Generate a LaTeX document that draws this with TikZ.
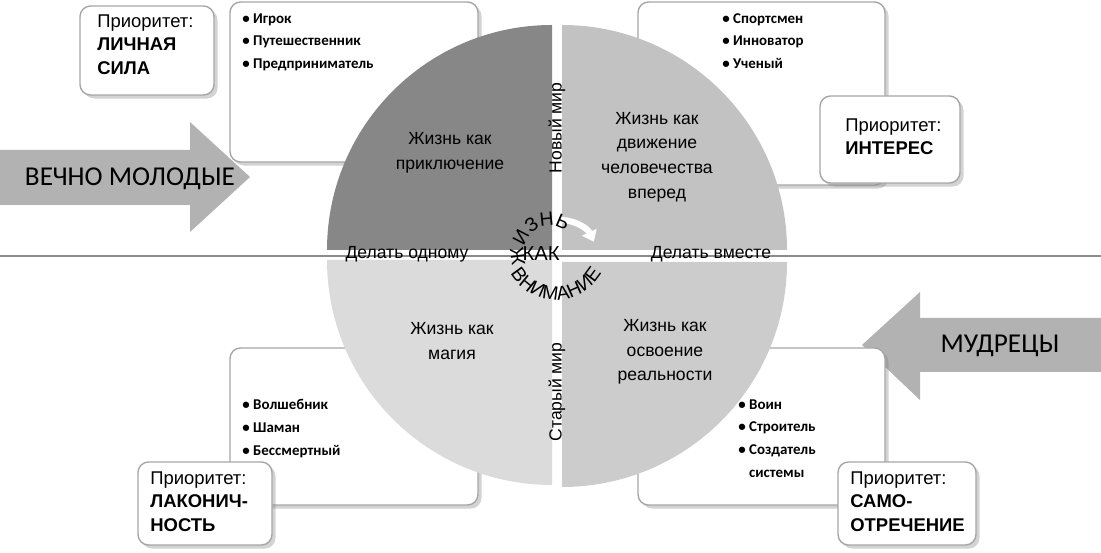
\documentclass[tikz,border=0pt]{standalone}
\usepackage{fontspec}
\setmainfont{Liberation Sans}
\newfontfamily\carlitofam{Carlito}
\usetikzlibrary{shadows,decorations.text,arrows.meta}
\begin{document}
\begin{tikzpicture}[x=0.02cm,y=0.02cm,
  card/.style={draw=black!35,line width=0.8pt,fill=white,rounded corners=6pt,drop shadow={shadow xshift=2pt,shadow yshift=-2pt,opacity=0.35}},
  lst/.style={font=\carlitofam\bfseries\fontsize{8.5}{13}\selectfont,align=left,anchor=north west,inner sep=0pt},
  prio/.style={font=\fontsize{10.5}{13.5}\selectfont,align=left,anchor=north west,inner sep=0pt},
  qt/.style={font=\fontsize{10}{14}\selectfont,align=center},
  arr/.style={fill=black!30,draw=none}]
\useasboundingbox (0,0) rectangle (1101,-553);
% horizontal line
\draw[black!45,line width=0.8pt] (0,-256) -- (1101,-256);
% arrows
\fill[arr] (0,-150) -- (190,-150) -- (190,-122) -- (250,-177) -- (190,-232) -- (190,-205) -- (0,-205) -- cycle;
\node[font=\carlitofam\fontsize{15.5}{15}\selectfont] (ym) at (130,-179) {ВЕЧНО МОЛОДЫЕ};
\fill[arr] (1101,-318) -- (920,-318) -- (920,-292) -- (862,-345) -- (920,-400) -- (920,-372) -- (1101,-372) -- cycle;
\node[font=\carlitofam\fontsize{15.5}{15}\selectfont] (md) at (1000,-346) {МУДРЕЦЫ};
% list cards
\draw[card] (230,-2) rectangle (478,-162);
\draw[card] (638,-2) rectangle (885,-185);
\draw[card] (230,-348) rectangle (478,-505);
\draw[card] (638,-348) rectangle (885,-505);
% circle quadrants
\fill[black!47] (552,-250) -- (327,-250) arc (180:90:225) -- cycle;
\fill[black!24] (562,-250) -- (562,-25) arc (90:0:225) -- cycle;
\fill[black!14] (552,-260) -- (552,-485) arc (270:180:225) -- cycle;
\fill[black!20] (562,-262) -- (787,-262) arc (0:-90:225) -- cycle;
% priority cards
\draw[card] (80,-6) rectangle (214,-95);
\draw[card] (820,-96) rectangle (960,-183);
\draw[card] (138,-462) rectangle (272,-545);
\draw[card] (838,-462) rectangle (976,-545);
\node[prio] (p1) at (97,-14) {Приоритет:\\\textbf{ЛИЧНАЯ}\\\textbf{СИЛА}};
\node[prio] (p2) at (845,-118) {Приоритет:\\\textbf{ИНТЕРЕС}};
\node[prio] (p3) at (150,-471) {Приоритет:\\\textbf{ЛАКОНИЧ-}\\\textbf{НОСТЬ}};
\node[prio] (p4) at (850,-471) {Приоритет:\\\textbf{САМО-}\\\textbf{ОТРЕЧЕНИЕ}};
% lists
\node[lst] (l1) at (242,-13) {• Игрок\\• Путешественник\\• Предприниматель};
\node[lst] (l2) at (722,-13) {• Спортсмен\\• Инноватор\\• Ученый};
\node[lst] (l3) at (242,-399) {• Волшебник\\• Шаман\\• Бессмертный};
\node[lst] (l4) at (738,-399) {• Воин\\• Строитель\\• Создатель\\\phantom{• }системы};
% quadrant texts
\node[qt] (q1) at (450,-153) {Жизнь как\\приключение};
\node[qt] (q2) at (657,-157) {Жизнь как\\движение\\человечества\\вперед};
\node[qt] (q3) at (452,-341) {Жизнь как\\магия};
\node[qt] (q4) at (665,-352) {Жизнь как\\освоение\\реальности};
\node[qt,rotate=90] (nm) at (557,-128) {Новый мир};
\node[qt,rotate=90] (sm) at (557,-392) {Старый мир};
\node[qt] (d1) at (407,-254) {Делать одному};
\node[qt] (d2) at (711,-254) {Делать вместе};
% center
\draw[white,line width=3.5pt,-{Triangle[length=6pt,width=9pt]}] (556,-220) arc (95:25:38);
\node[font=\fontsize{11.5}{12}\selectfont] (kak) at (541,-254) {КАК};
\path[decorate,decoration={text along path,text align=center,text={|\fontsize{11}{12}\selectfont|ЖИЗНЬ}}]
  (550,-252) ++(205:26) arc (205:55:26);
\path[decorate,decoration={text along path,text align=center,text={|\fontsize{11}{12}\selectfont|ВНИМАНИЕ}}]
  (556,-248) ++(185:52) arc (185:355:52);
\end{tikzpicture}
\end{document}
